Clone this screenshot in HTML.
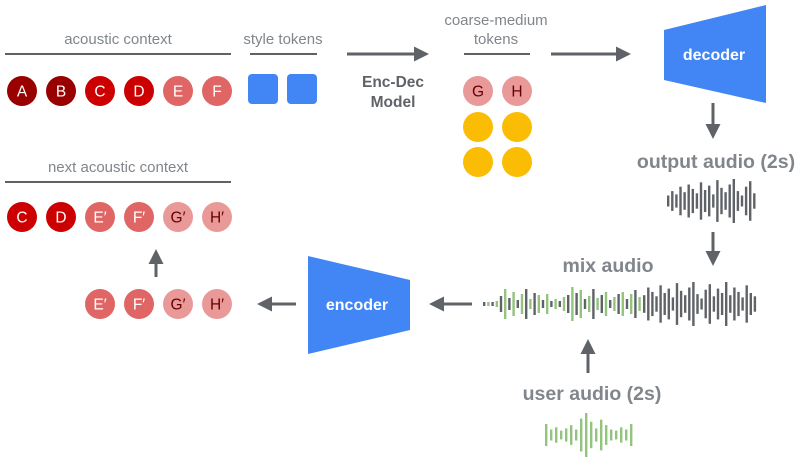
<!DOCTYPE html>
<html><head><meta charset="utf-8"><style>
html,body{margin:0;padding:0;background:#fff;}
svg{display:block;font-family:"Liberation Sans",Arial,sans-serif;}
.lbl{fill:#80868b;font-size:15px;text-anchor:middle;}
.big{fill:#80868b;font-size:19.5px;font-weight:bold;text-anchor:middle;}
.ct{font-size:15.5px;text-anchor:middle;}
</style></head><body>
<svg id="s" width="797" height="457" viewBox="0 0 797 457" xmlns="http://www.w3.org/2000/svg">
<defs><marker id="ah" markerWidth="5" markerHeight="5" refX="4" refY="2.5" orient="auto" markerUnits="strokeWidth"><path d="M0,0 L5,2.5 L0,5 z" fill="#5f6368"/></marker></defs>
<g stroke="#5f6368" stroke-width="2">
<line x1="5" y1="54" x2="231" y2="54"/><line x1="250" y1="54" x2="317" y2="54"/>
<line x1="464" y1="54" x2="530" y2="54"/><line x1="5" y1="182" x2="231" y2="182"/>
</g>
<text class="lbl" x="118" y="44">acoustic context</text>
<text class="lbl" x="283" y="44">style tokens</text>
<text class="lbl" x="496" y="25">coarse-medium</text>
<text class="lbl" x="496" y="44">tokens</text>
<text class="lbl" x="118" y="172">next acoustic context</text>
<g stroke="#5f6368" stroke-width="3" marker-end="url(#ah)">
<line x1="347" y1="54" x2="426" y2="54"/>
<line x1="551" y1="54" x2="628" y2="54"/>
<line x1="713" y1="103" x2="713" y2="136"/>
<line x1="713" y1="232" x2="713" y2="263"/>
<line x1="588" y1="373" x2="588" y2="342"/>
<line x1="472" y1="304" x2="432" y2="304"/>
<line x1="296" y1="304" x2="260" y2="304"/>
<line x1="156" y1="277" x2="156" y2="252"/>
</g>
<text x="393" y="87" style="fill:#5f6368;font-size:15.5px;font-weight:bold;text-anchor:middle">Enc-Dec</text>
<text x="393" y="107" style="fill:#5f6368;font-size:15.5px;font-weight:bold;text-anchor:middle">Model</text>
<polygon points="664,30 766,5 766,103 664,80" fill="#4285f4"/>
<text x="714" y="60" style="fill:#fff;font-size:16px;font-weight:bold;text-anchor:middle">decoder</text>
<polygon points="308,256 410,280 410,330 308,354" fill="#4285f4"/>
<text x="357" y="310" style="fill:#fff;font-size:16px;font-weight:bold;text-anchor:middle">encoder</text>
<text class="big" x="716" y="168">output audio (2s)</text>
<text class="big" x="608" y="272">mix audio</text>
<text class="big" x="592" y="400">user audio (2s)</text>
<rect x="248" y="74" width="30" height="30" rx="4" fill="#4285f4"/>
<rect x="287" y="74" width="30" height="30" rx="4" fill="#4285f4"/>
<g id="c"></g>
<g id="w"></g>
</svg>
<script>
(function(){
var ns="http://www.w3.org/2000/svg",c=document.getElementById('c'),w=document.getElementById('w');
function circ(x,y,f,t,tc){var e=document.createElementNS(ns,'circle');e.setAttribute('cx',x);e.setAttribute('cy',y);e.setAttribute('r',15);e.setAttribute('fill',f);c.appendChild(e);
if(t){var q=document.createElementNS(ns,'text');q.setAttribute('x',x);q.setAttribute('y',y+5.5);q.setAttribute('class','ct');q.setAttribute('fill',tc);q.textContent=t;c.appendChild(q);}}
var X=[22,61,100,139,178,217];
var row1=[['A','#990000','#fff'],['B','#990000','#fff'],['C','#cc0000','#fff'],['D','#cc0000','#fff'],['E','#e06666','#fff'],['F','#e06666','#fff']];
row1.forEach(function(a,i){circ(X[i],91,a[1],a[0],a[2]);});
var nx=[['C','#cc0000','#fff'],['D','#cc0000','#fff'],['E\u2032','#e06666','#fff'],['F\u2032','#e06666','#fff'],['G\u2032','#ea9999','#660000'],['H\u2032','#ea9999','#660000']];
nx.forEach(function(a,i){circ(X[i],217,a[1],a[0],a[2]);});
nx.slice(2).forEach(function(a,i){circ(X[i+2],304,a[1],a[0],a[2]);});
circ(478,91,'#ea9999','G','#660000');circ(517,91,'#ea9999','H','#660000');
[[478,127],[517,127],[478,162],[517,162]].forEach(function(p){circ(p[0],p[1],'#fbbc04');});
var out=[10,18,12,26,16,30,22,14,34,20,28,12,38,24,16,30,40,18,10,26,36,14];
var usr=[20,10,14,8,12,18,10,30,40,24,12,28,18,10,8,14,10,20];
function bar(x,cy,h,col){var r=document.createElementNS(ns,'rect');r.setAttribute('x',x);r.setAttribute('y',cy-h/2);r.setAttribute('width',2.4);r.setAttribute('height',h);r.setAttribute('fill',col);w.appendChild(r);}
out.forEach(function(h,i){bar(667+i*4.1,201,h*1.1,'#5f6368');});
usr.forEach(function(h,i){bar(545+i*5,435,h*1.1,'#93c47d');});
var mix=[4,4,4,6,16,30,12,24,8,20,30,10,22,18,8,20,6,10,6,14,18,34,22,28,10,16,30,12,18,24,8,14,20,24,10,20,28,14];
mix.forEach(function(h,i){bar(483+i*4.2,304,h,(i%2)?'#93c47d':'#5f6368');});
var g2=[16,30,22,14,34,20,28,12,38,24,16,30,40,18,10,26,36,14,28,20,40,16,30,22,12,34,20,14];
g2.forEach(function(h,i){bar(643+i*4.1,304,h*1.1,'#5f6368');});
})();
</script>
</body></html>
